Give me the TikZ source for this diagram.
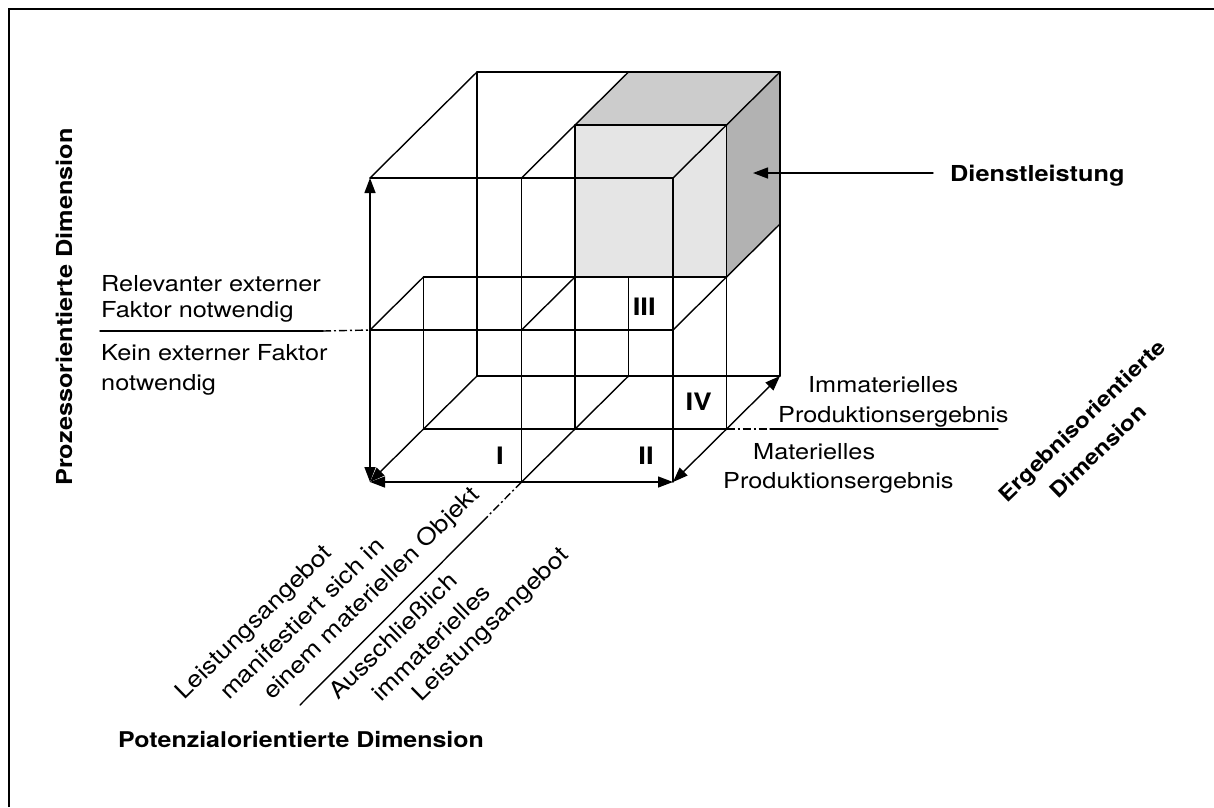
\documentclass[tikz,border=0pt]{standalone}
\usepackage{fontspec}
\setmainfont{TeX Gyre Heros}[FakeStretch=1.15]
\usetikzlibrary{arrows.meta,calc}

\tikzset{
  edge/.style={line width=1.4pt, line cap=round},
  dim/.style={edge, {Triangle[length=15pt,width=11pt]}-{Triangle[length=15pt,width=11pt]}},
  dimend/.style={edge, -{Triangle[length=15pt,width=11pt]}},
  dashdot/.style={line width=1.4pt, dash pattern=on 8pt off 3pt on 2pt off 3pt},
  txt/.style={font=\fontsize{22}{26}\selectfont, inner sep=0pt},
  slant/.style={font=\fontsize{23}{27}\selectfont, inner sep=0pt, anchor=base west, rotate=44.5},
  hdr/.style={font=\fontsize{21}{25}\selectfont\bfseries, inner sep=0pt},
  num/.style={font=\fontsize{24}{28}\selectfont\bfseries, inner sep=0pt, anchor=base east},
  topface/.style={fill=black!20},
  frontface/.style={fill=black!10},
  sideface/.style={fill=black!30},
}

\begin{document}
\begin{tikzpicture}[x=1pt, y=-1pt]
\useasboundingbox (0,0) rectangle (1214,807);

% frame
\draw[line width=2.2pt] (9,807) -- (9,9) -- (1214,9);

% grid points of the 2x2x2 block, named c<x><y><z>
\begin{scope}[shift={(370,482)}, x={(151.5pt,0pt)}, y={(0pt,152pt)}, z={(53.5pt,53pt)}]
  \foreach \i in {0,1,2}
    \foreach \j in {0,1,2}
      \foreach \k in {0,1,2}
        \coordinate (c\i\j\k) at (\i,\j,\k);
\end{scope}

% edge partly hidden behind the shaded cell
\draw[edge] (c102) -- (c112);

% shaded cell (service)
\fill[topface]   (c121) -- (c221) -- (c222) -- (c122) -- cycle;
\fill[frontface] (c111) -- (c211) -- (c221) -- (c121) -- cycle;
\fill[sideface]  (c211) -- (c212) -- (c222) -- (c221) -- cycle;

% back face
\draw[edge] (c022) -- (c222);
\draw[edge] (c002) -- (c022);
\draw[edge] (c202) -- (c222);
\draw[edge] (c002) -- (c202);

% top face
\draw[edge] (c020) -- (c022);
\draw[edge] (c120) -- (c122);
\draw[edge] (c220) -- (c222);
\draw[edge] (c020) -- (c220);
\draw[edge] (c121) -- (c221);

% front face
\draw[edge] (c200) -- (c220);
\draw[edge] (c100) -- (c120);
\draw[edge] (c010) -- (c210);

% middle layer
\draw[edge] (c001) -- (c011);
\draw[edge] (c101) -- (c121);
\draw[edge] (c201) -- (c221);
\draw[edge] (c011) -- (c211);
\draw[edge] (c001) -- (c201);

% depth edges
\draw[edge] (c010) -- (c011);
\draw[edge] (c110) -- (c111);
\draw[edge] (c210) -- (c212);
\draw[edge] (c100) -- (c102);

% dimension arrows
\draw[dim] (c020) -- (c000);
\draw[dim] (c000) -- (c200);
\draw[dim] (c200) -- (c202);
\draw[dimend] (c002) -- (c000);

% dividing lines between the labels
\coordinate (la) at (100,331);
\coordinate (lb) at (323,331);
\draw[edge] (la) -- (lb);
\draw[dashdot] (lb) -- (c010);

\coordinate (ra) at (770,429);
\coordinate (rb) at (998,429);
\draw[dashdot] (c201) -- (ra);
\draw[edge] (ra) -- (rb);

\coordinate (da) at (487,517);
\coordinate (db) at (300,705);
\draw[dashdot] (c100) -- (da);
\draw[edge] (da) -- (db);

% cell numbers
\node[num] (n1) at (504,464) {I};
\node[num] (n2) at (654,464) {II};
\node[num] (n3) at (656,315) {III};
\node[num] (n4) at (712,410) {IV};

% process dimension labels
\node[txt, anchor=base west] (p1) at (101,291) {Relevanter externer};
\node[txt, anchor=base west] (p2) at (101,317) {Faktor notwendig};
\node[txt, anchor=base west] (p3) at (101,360) {Kein externer Faktor};
\node[txt, anchor=base west] (p4) at (101,390) {notwendig};

% result dimension labels
\node[txt, anchor=base west] (r1) at (808,392) {Immaterielles};
\node[txt, anchor=base west] (r2) at (778,422) {Produktionsergebnis};
\node[txt, anchor=base west] (r3) at (753,459) {Materielles};
\node[txt, anchor=base west] (r4) at (723,488) {Produktionsergebnis};

% potential dimension labels
\node[slant] (q1) at (184,701) {Leistungsangebot};
\node[slant] (q2) at (229,701) {manifestiert sich in};
\node[slant] (q3) at (272,701) {einem materiellen Objekt};
\node[slant] (q4) at (338,701) {Ausschließlich};
\node[slant] (q5) at (381,703) {immaterielles};
\node[slant] (q6) at (421,703) {Leistungsangebot};

% axis titles
\node[hdr, anchor=base west, font=\fontsize{21.7}{25}\selectfont\bfseries] (ax1) at (118,747) {Potenzialorientierte Dimension};
\node[hdr, anchor=base, rotate=90, font=\fontsize{22}{26}\selectfont\bfseries] (ax2) at (72,307) {Prozessorientierte Dimension};
\node[hdr, rotate=44] (ax3) at (1083,422) {Ergebnisorientierte};
\node[hdr, rotate=44] (ax4) at (1098,451) {Dimension};

% service label
\node[hdr, anchor=base west, font=\fontsize{22}{26}\selectfont\bfseries] (sv) at (950,181) {Dienstleistung};
\coordinate (svtail) at (933,173);
\coordinate (svtip) at (753,173);
\draw[dimend] (svtail) -- (svtip);

\end{tikzpicture}
\end{document}
